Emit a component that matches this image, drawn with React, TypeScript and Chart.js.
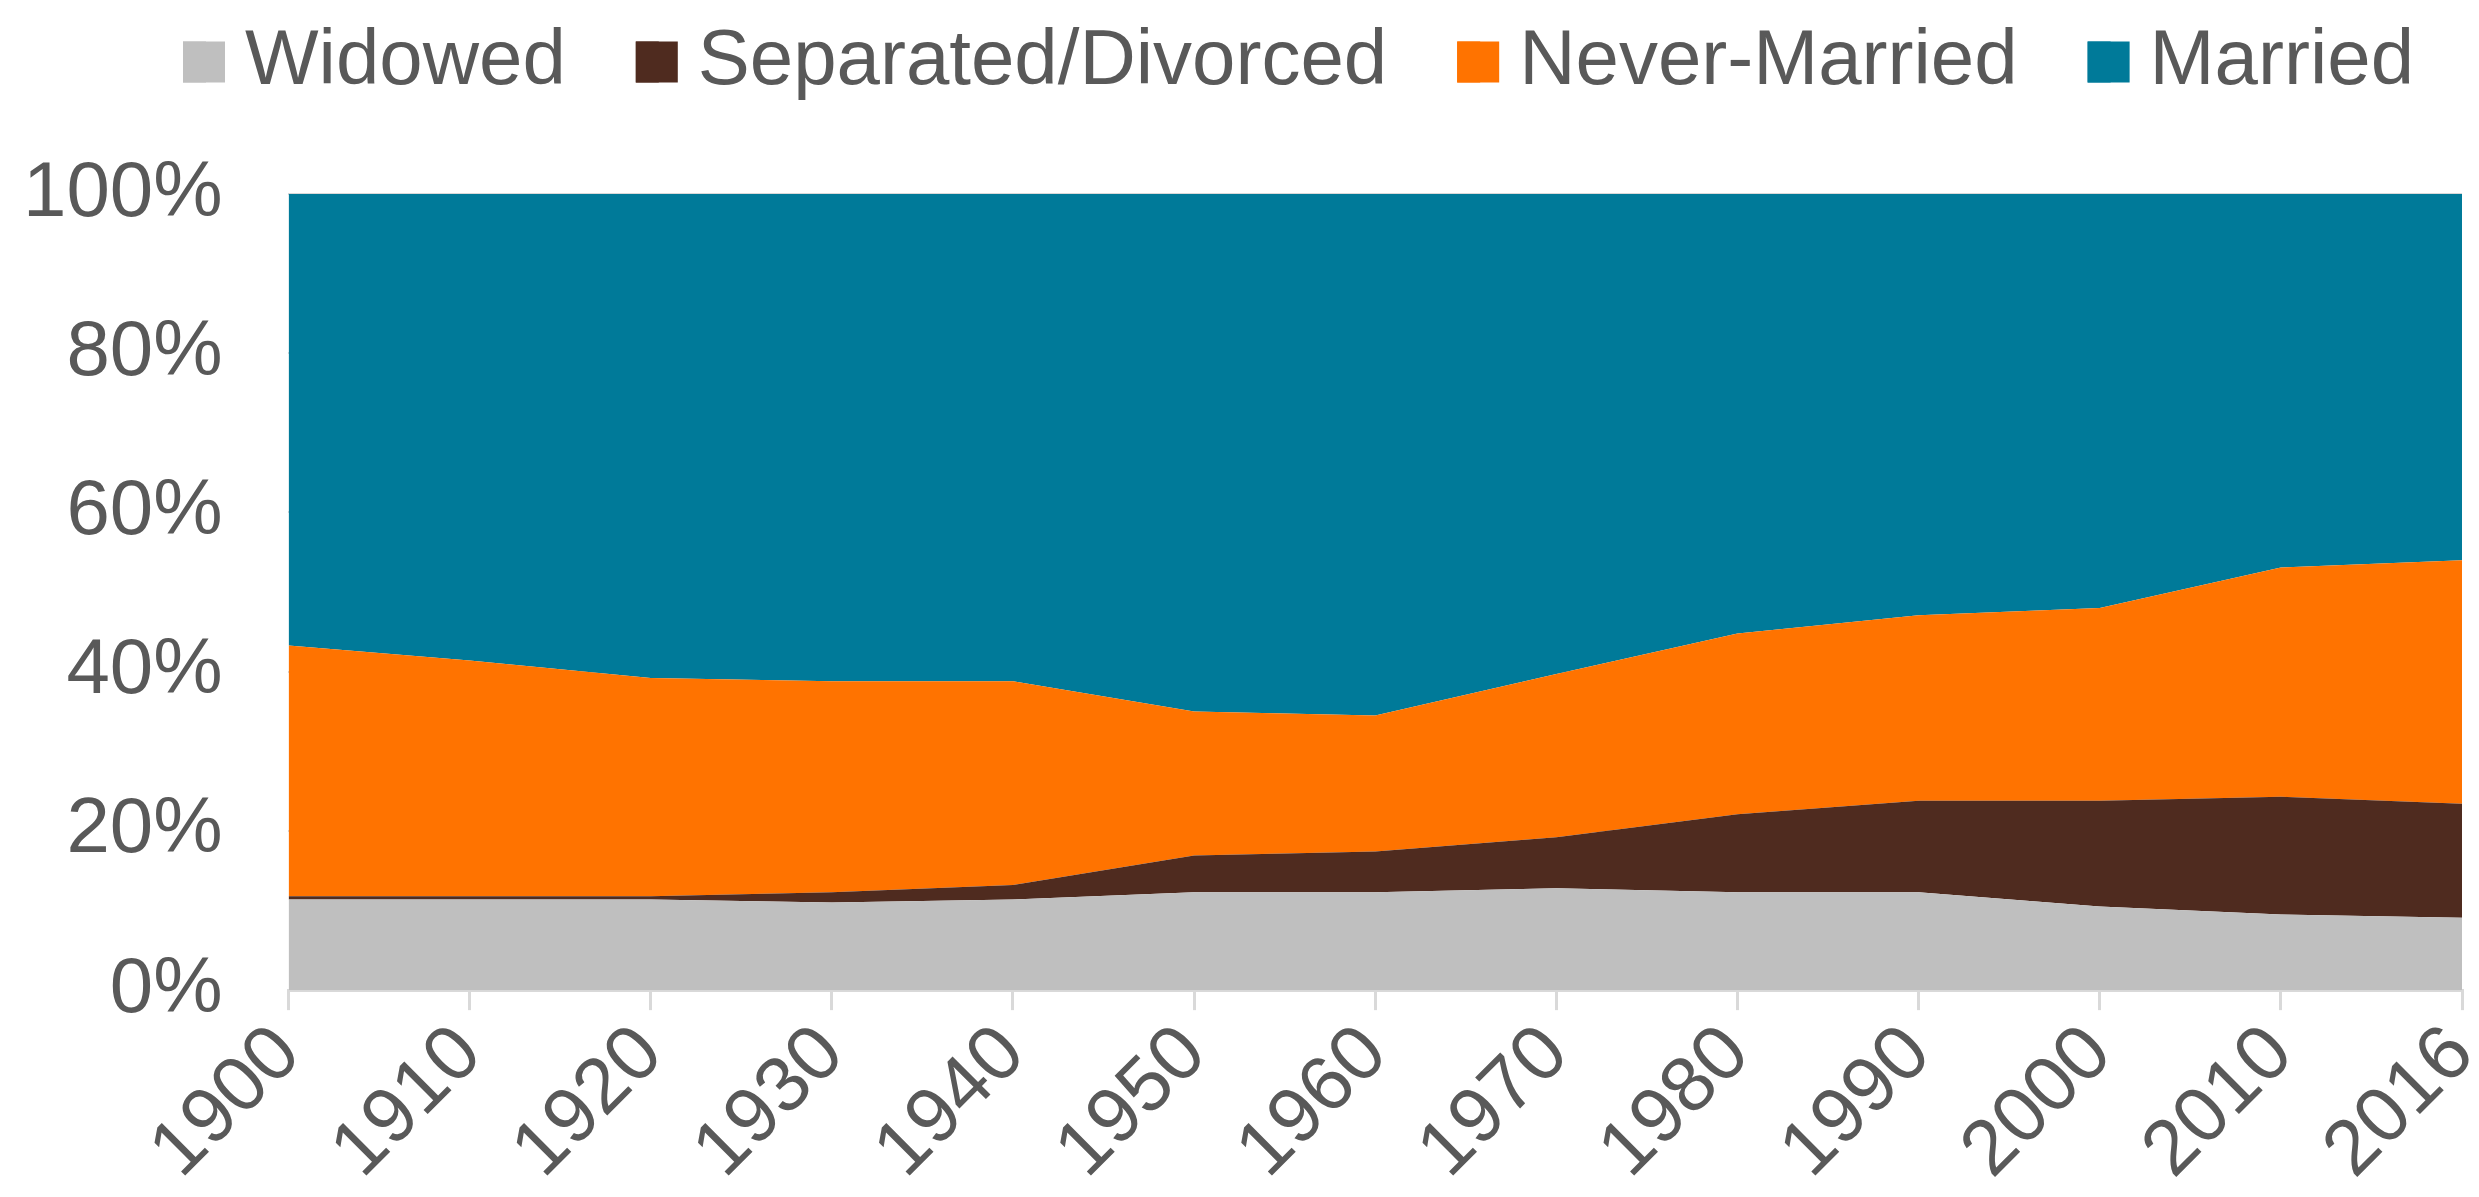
import React, { useEffect, useRef } from "react";
import { Chart, registerables } from "chart.js";

Chart.register(...registerables);

const years = ["1900", "1910", "1920", "1930", "1940", "1950", "1960", "1970", "1980", "1990", "2000", "2010", "2016"];
const widowed = [11.4, 11.4, 11.4, 11.0, 11.4, 12.3, 12.3, 12.8, 12.3, 12.3, 10.5, 9.5, 9.1];
const separatedDivorced = [0.4, 0.4, 0.4, 1.3, 1.8, 4.6, 5.1, 6.4, 9.8, 11.5, 13.3, 14.8, 14.3];
const neverMarried = [31.5, 29.6, 27.4, 26.5, 25.6, 18.1, 17.1, 20.5, 22.7, 23.3, 24.2, 28.8, 30.6];
const married = [56.7, 58.6, 60.8, 61.2, 61.2, 65.0, 65.5, 60.3, 55.2, 52.9, 52.0, 46.9, 46.0];

const seriesNames = ["Widowed", "Separated/Divorced", "Never-Married", "Married"];
const seriesColors = ["#bfbfbf", "#4f2b1f", "#ff7300", "#007a99"];
const yTicks = [0, 20, 40, 60, 80, 100];

const FONT = "'Liberation Sans', Arial, sans-serif";
const TEXT = "#595959";

const LEGEND_BOX_W = 42;
const LEGEND_BOX_H = 41;

const legendShift = {
  id: "legendShift",
  afterLayout(chart: any) {
    const lg = chart.legend;
    if (!lg) return;
    const dx = 56;
    const dy = -83;
    lg.left += dx;
    lg.right += dx;
    lg.top += dy;
    lg.bottom += dy;
  },
  afterDraw(chart: any) {
    const lg = chart.legend;
    if (!lg || !lg.legendHitBoxes || !lg.legendItems) return;
    const ctx = chart.ctx;
    ctx.save();
    lg.legendHitBoxes.forEach((hb: any, i: number) => {
      const item = lg.legendItems[i];
      if (!item) return;
      const cy = hb.top + hb.height / 2;
      ctx.fillStyle = item.fillStyle;
      ctx.fillRect(hb.left, cy - LEGEND_BOX_H / 2, LEGEND_BOX_W, LEGEND_BOX_H);
    });
    ctx.restore();
  },
};

export default function App() {
  const ref = useRef<HTMLCanvasElement | null>(null);

  useEffect(() => {
    if (!ref.current) return;
    const values = [widowed, separatedDivorced, neverMarried, married];
    const chart = new Chart(ref.current, {
      type: "line",
      data: {
        labels: years,
        datasets: values.map((v, i) => ({
          label: seriesNames[i],
          data: v,
          backgroundColor: seriesColors[i],
          borderColor: seriesColors[i],
          borderWidth: 0,
          pointRadius: 0,
          fill: i === 0 ? "origin" : "-1",
          tension: 0,
        })),
      },
      options: {
        animation: false,
        responsive: true,
        maintainAspectRatio: false,
        events: [],
        layout: { padding: { left: 15, right: 9, top: 28, bottom: 0 } },
        plugins: {
          tooltip: { enabled: false },
          legend: {
            position: "top",
            labels: {
              boxWidth: 23,
              boxHeight: LEGEND_BOX_H,
              padding: 70,
              color: TEXT,
              font: { family: FONT, size: 78, lineHeight: 1 },
            },
          },
        },
        scales: {
          x: {
            offset: false,
            afterFit: (scale: any) => {
              scale.paddingLeft = 0;
              scale.paddingRight = 0;
            },
            grid: {
              display: true,
              drawOnChartArea: false,
              drawTicks: true,
              tickLength: 20,
              color: "#d9d9d9",
              lineWidth: 3,
            },
            border: { display: true, color: "#d9d9d9", width: 3 },
            ticks: {
              color: TEXT,
              font: { family: FONT, size: 78, lineHeight: 1 },
              minRotation: 45,
              maxRotation: 45,
              autoSkip: false,
              padding: 4,
            },
          },
          y: {
            stacked: true,
            min: 0,
            max: 100,
            afterBuildTicks: (axis: any) => {
              axis.ticks = yTicks.map((v) => ({ value: v }));
            },
            afterFit: (scale: any) => {
              scale.width = scale.width - 66;
            },
            grid: { display: true, drawTicks: false, color: "#d9d9d9", lineWidth: 2 },
            border: { display: false },
            ticks: {
              color: TEXT,
              font: { family: FONT, size: 78, lineHeight: 1 },
              padding: 66,
              callback: (v: any) => `${v}%`,
            },
          },
        },
      },
      plugins: [legendShift],
    });
    return () => chart.destroy();
  }, []);

  return (
    <div style={{ width: 2463, height: 1188, position: "relative" }}>
      <canvas ref={ref} />
    </div>
  );
}
